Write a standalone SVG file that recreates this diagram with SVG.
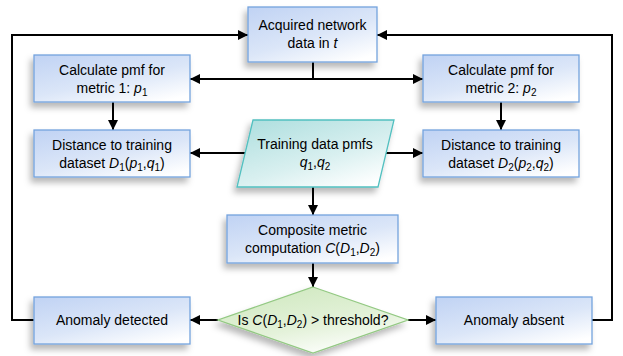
<svg xmlns="http://www.w3.org/2000/svg" width="623" height="356" viewBox="0 0 623 356">
<defs>
<linearGradient id="gBlue" x1="0.1" y1="0" x2="0.8" y2="1">
<stop offset="0" stop-color="#c2d4f4"/>
<stop offset="0.55" stop-color="#dbe6f8"/>
<stop offset="1" stop-color="#ffffff"/>
</linearGradient>
<linearGradient id="gTeal" x1="0.1" y1="0" x2="0.8" y2="1">
<stop offset="0" stop-color="#afdfdf"/>
<stop offset="0.6" stop-color="#d9f0f0"/>
<stop offset="1" stop-color="#ffffff"/>
</linearGradient>
<linearGradient id="gGreen" x1="0.2" y1="0" x2="0.7" y2="1">
<stop offset="0" stop-color="#cfe8bf"/>
<stop offset="0.6" stop-color="#e4f2da"/>
<stop offset="1" stop-color="#ffffff"/>
</linearGradient>
<filter id="sh" x="-20%" y="-20%" width="140%" height="160%">
<feDropShadow dx="-3" dy="5" stdDeviation="3" flood-color="#000" flood-opacity="0.28"/>
</filter>
<marker id="ah" markerWidth="10" markerHeight="10" refX="10" refY="5" orient="auto" markerUnits="userSpaceOnUse">
<path d="M0,0 L10,5 L0,10 Z" fill="#000"/>
</marker>
</defs>
<style>
.box{fill:url(#gBlue);stroke:#74a3dd;stroke-width:1.3;filter:url(#sh)}
.para{fill:url(#gTeal);stroke:#52c0c0;stroke-width:1.3;filter:url(#sh)}
.dia{fill:url(#gGreen);stroke:#93c983;stroke-width:1.3;filter:url(#sh)}
text{font-family:"Liberation Sans",Arial,sans-serif;font-size:14px;fill:#000;text-anchor:middle}
.i{font-style:italic}
.s{font-size:10px}
.c{fill:none;stroke:#000;stroke-width:2}
</style>

<g id="connectors">
<polyline class="c" points="34,320 12,320 12,35 248,35" marker-end="url(#ah)"/>
<polyline class="c" points="592,320 612,320 612,35 377,35" marker-end="url(#ah)"/>
<line class="c" x1="313" y1="62" x2="313" y2="79"/>
<line class="c" x1="313" y1="79" x2="190" y2="79" marker-end="url(#ah)"/>
<line class="c" x1="313" y1="79" x2="423" y2="79" marker-end="url(#ah)"/>
<line class="c" x1="113" y1="102" x2="113" y2="130" marker-end="url(#ah)"/>
<line class="c" x1="501" y1="102" x2="501" y2="130" marker-end="url(#ah)"/>
<line class="c" x1="245" y1="153" x2="190" y2="153" marker-end="url(#ah)"/>
<line class="c" x1="386" y1="153" x2="423" y2="153" marker-end="url(#ah)"/>
<line class="c" x1="313" y1="187" x2="313" y2="215" marker-end="url(#ah)"/>
<line class="c" x1="313" y1="263" x2="313" y2="287" marker-end="url(#ah)"/>
<line class="c" x1="218" y1="320" x2="190" y2="320" marker-end="url(#ah)"/>
<line class="c" x1="408" y1="320" x2="436" y2="320" marker-end="url(#ah)"/>
</g>

<g id="acquired">
<rect class="box" x="248" y="7" width="129" height="55"/>
<text x="312.5" y="30">Acquired network</text>
<text x="312.5" y="48">data in <tspan class="i">t</tspan></text>
</g>

<g id="pmf1">
<rect class="box" x="34" y="55" width="156" height="47"/>
<text x="112" y="74.5">Calculate pmf for</text>
<text x="112" y="92.5">metric 1: <tspan class="i">p</tspan><tspan class="s" dy="3">1</tspan></text>
</g>

<g id="pmf2">
<rect class="box" x="423" y="55" width="156" height="47"/>
<text x="501" y="74.5">Calculate pmf for</text>
<text x="501" y="92.5">metric 2: <tspan class="i">p</tspan><tspan class="s" dy="3">2</tspan></text>
</g>

<g id="dist1">
<rect class="box" x="34" y="130" width="156" height="47"/>
<text x="112" y="149.5">Distance to training</text>
<text x="112" y="167.5">dataset <tspan class="i">D</tspan><tspan class="s" dy="3">1</tspan><tspan dy="-3">(</tspan><tspan class="i">p</tspan><tspan class="s" dy="3">1</tspan><tspan dy="-3">,</tspan><tspan class="i">q</tspan><tspan class="s" dy="3">1</tspan><tspan dy="-3">)</tspan></text>
</g>

<g id="dist2">
<rect class="box" x="423" y="130" width="156" height="47"/>
<text x="501" y="149.5">Distance to training</text>
<text x="501" y="167.5">dataset <tspan class="i">D</tspan><tspan class="s" dy="3">2</tspan><tspan dy="-3">(</tspan><tspan class="i">p</tspan><tspan class="s" dy="3">2</tspan><tspan dy="-3">,</tspan><tspan class="i">q</tspan><tspan class="s" dy="3">2</tspan><tspan dy="-3">)</tspan></text>
</g>

<g id="training">
<polygon class="para" points="253,120 394,120 378,187 237,187"/>
<text x="315" y="149">Training data pmfs</text>
<text x="315" y="167"><tspan class="i">q</tspan><tspan class="s" dy="3">1</tspan><tspan dy="-3">,</tspan><tspan class="i">q</tspan><tspan class="s" dy="3">2</tspan></text>
</g>

<g id="composite">
<rect class="box" x="227" y="215" width="171" height="48"/>
<text x="312.5" y="235">Composite metric</text>
<text x="312.5" y="253">computation <tspan class="i">C</tspan><tspan dx="0">(</tspan><tspan class="i">D</tspan><tspan class="s" dy="3">1</tspan><tspan dy="-3">,</tspan><tspan class="i">D</tspan><tspan class="s" dy="3">2</tspan><tspan dy="-3">)</tspan></text>
</g>

<g id="decision">
<polygon class="dia" points="313,287 408,320 313,353 218,320"/>
<text x="313" y="325">Is <tspan class="i">C</tspan>(<tspan class="i">D</tspan><tspan class="s" dy="3">1</tspan><tspan dy="-3">,</tspan><tspan class="i">D</tspan><tspan class="s" dy="3">2</tspan><tspan dy="-3">) &gt; threshold?</tspan></text>
</g>

<g id="detected">
<rect class="box" x="34" y="297" width="156" height="47"/>
<text x="112" y="325">Anomaly detected</text>
</g>

<g id="absent">
<rect class="box" x="436" y="297" width="156" height="47"/>
<text x="514" y="325">Anomaly absent</text>
</g>
</svg>
